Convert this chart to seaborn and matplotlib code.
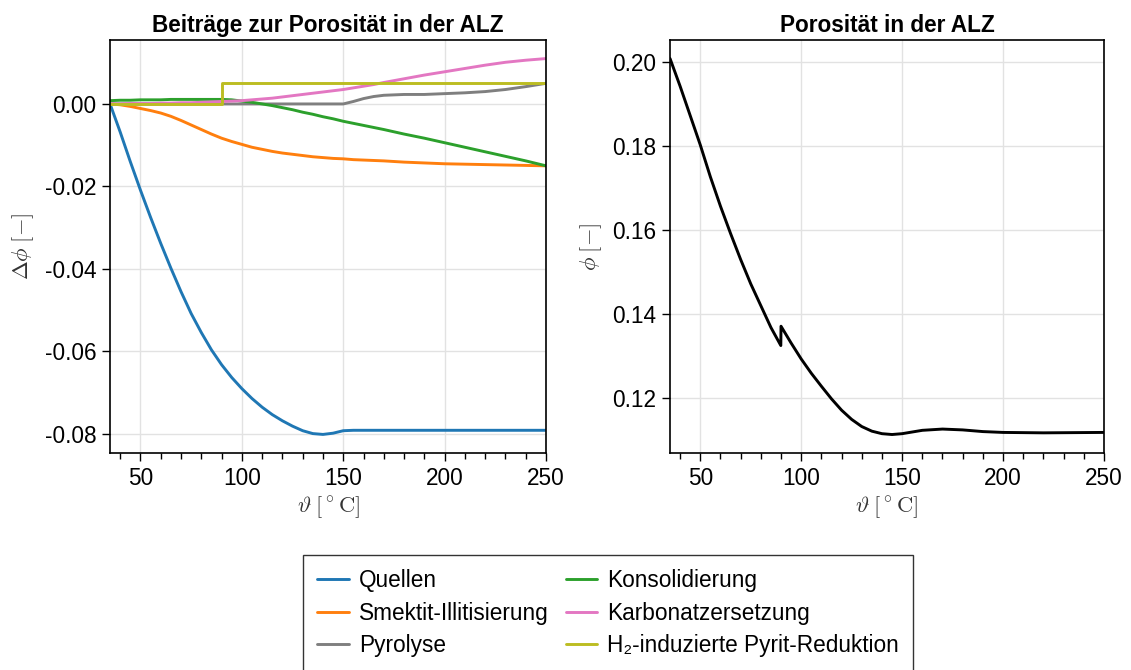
import numpy as np
import pandas as pd
import seaborn as sns
import matplotlib.pyplot as plt
from matplotlib.ticker import MultipleLocator, FormatStrFormatter

sns.set_theme(style="ticks")
plt.rcParams['font.family'] = ['Liberation Sans', 'DejaVu Sans']
plt.rcParams['mathtext.fontset'] = 'cm'
plt.rcParams['axes.unicode_minus'] = False
plt.rcParams['text.color'] = 'black'
plt.rcParams['axes.labelcolor'] = 'black'

# ----- data -----
temp = [35, 40, 45, 50, 55, 60, 65, 70, 75, 80, 85, 90, 95, 100, 105, 110, 115, 120,
        125, 130, 135, 140, 145, 150, 155, 160, 165, 170, 180, 190, 200, 210, 220, 230, 240, 250]

quellen = [0.0, -0.0068, -0.0140, -0.0209, -0.0275, -0.0338, -0.0398, -0.0455, -0.0508,
           -0.0554, -0.0596, -0.0632, -0.0663, -0.0690, -0.0714, -0.0735, -0.0753, -0.0768,
           -0.0781, -0.0792, -0.0799, -0.0801, -0.0798, -0.0792, -0.0791, -0.0791, -0.0791,
           -0.0791, -0.0791, -0.0791, -0.0791, -0.0791, -0.0791, -0.0791, -0.0791, -0.0791]

smektit = [0.0, -0.0002, -0.0006, -0.0011, -0.0016, -0.0022, -0.0030, -0.0040, -0.0051,
           -0.0062, -0.0073, -0.0083, -0.0091, -0.0098, -0.0105, -0.0110, -0.0115, -0.0119,
           -0.0122, -0.0125, -0.0128, -0.0130, -0.0132, -0.0133, -0.0135, -0.0136, -0.0137,
           -0.0138, -0.0141, -0.0143, -0.0145, -0.0146, -0.0147, -0.0148, -0.0149, -0.0150]

pyrolyse = [0.0] * 24 + [0.0006, 0.0013, 0.0018, 0.0021, 0.0023, 0.0023, 0.0025, 0.0027,
                         0.0030, 0.0035, 0.0042, 0.0050]

konsolidierung = [0.0008, 0.0009, 0.0009, 0.0010, 0.0010, 0.0010, 0.0011, 0.0011, 0.0011,
                  0.0011, 0.0011, 0.0011, 0.0010, 0.0007, 0.0004, 0.0000, -0.0004, -0.0009,
                  -0.0014, -0.0020, -0.0025, -0.0031, -0.0036, -0.0042, -0.0047, -0.0052,
                  -0.0057, -0.0062, -0.0073, -0.0083, -0.0094, -0.0105, -0.0116, -0.0127,
                  -0.0138, -0.0150]

karbonat = [0.0, 0.0000, 0.0001, 0.0001, 0.0001, 0.0002, 0.0002, 0.0003, 0.0003, 0.0004,
            0.0005, 0.0006, 0.0007, 0.0008, 0.0010, 0.0012, 0.0014, 0.0017, 0.0020, 0.0023,
            0.0026, 0.0029, 0.0032, 0.0035, 0.0039, 0.0043, 0.0047, 0.0052, 0.0061, 0.0070,
            0.0078, 0.0086, 0.0094, 0.0101, 0.0106, 0.0110]

pyrit_temp = [35, 90, 90, 250]
pyrit = [0.0, 0.0, 0.005, 0.005]

phi_temp = [35, 40, 45, 50, 55, 60, 65, 70, 75, 80, 85, 89.9, 90, 95, 100, 105, 110, 115,
            120, 125, 130, 135, 140, 145, 150, 155, 160, 170, 180, 190, 200, 220, 250]
phi = [0.2009, 0.1943, 0.1873, 0.1803, 0.1727, 0.1657, 0.1592, 0.1530, 0.1472, 0.1420,
       0.1368, 0.1325, 0.1371, 0.1331, 0.1293, 0.1259, 0.1228, 0.1198, 0.1171, 0.1149,
       0.1132, 0.1121, 0.1115, 0.1113, 0.1115, 0.1119, 0.1123, 0.1126, 0.1124, 0.1120,
       0.1118, 0.1117, 0.1118]

series = [
    ("Quellen", temp, quellen, "#1f77b4"),
    ("Smektit-Illitisierung", temp, smektit, "#ff7f0e"),
    ("Pyrolyse", temp, pyrolyse, "#7f7f7f"),
    ("Konsolidierung", temp, konsolidierung, "#2ca02c"),
    ("Karbonatzersetzung", temp, karbonat, "#e377c2"),
    ("H₂-induzierte Pyrit-Reduktion", pyrit_temp, pyrit, "#bcbd22"),
]

fs = 16.3

fig = plt.figure(figsize=(11.31, 6.70), dpi=100)
ax1 = fig.add_axes([0.0973, 0.3239, 0.3855, 0.6164])
ax2 = fig.add_axes([0.5924, 0.3239, 0.3837, 0.6164])

lw = 2.1
for name, x, y, col in series:
    df = pd.DataFrame({"T": x, "v": y})
    sns.lineplot(data=df, x="T", y="v", ax=ax1, color=col, lw=lw, label=name,
                 estimator=None, sort=False)

df_phi = pd.DataFrame({"T": phi_temp, "phi": phi})
sns.lineplot(data=df_phi, x="T", y="phi", ax=ax2, color="black", lw=lw,
             estimator=None, sort=False)

handles, labels = ax1.get_legend_handles_labels()
ax1.get_legend().remove()

ax1.set_ylim(-0.0846, 0.0155)
ax1.yaxis.set_major_locator(MultipleLocator(0.02))
ax2.set_ylim(0.1069, 0.2053)
ax2.yaxis.set_major_locator(MultipleLocator(0.02))

for ax, title, ylab in [(ax1, "Beiträge zur Porosität in der ALZ", r"$\Delta\phi\;[-]$"),
                        (ax2, "Porosität in der ALZ", r"$\phi\;[-]$")]:
    ax.set_xlim(35, 250)
    ax.xaxis.set_major_locator(MultipleLocator(50))
    ax.xaxis.set_minor_locator(MultipleLocator(10))
    ax.yaxis.set_major_formatter(FormatStrFormatter("%.2f"))
    ax.grid(True, which="major", color="#e2e2e2", linewidth=1.0)
    ax.grid(False, which="minor")
    ax.set_axisbelow(True)
    for s in ax.spines.values():
        s.set_visible(True)
        s.set_color("black")
        s.set_linewidth(1.2)
    ax.tick_params(axis="both", which="major", direction="out", length=6, width=1,
                   labelsize=fs, color="black", labelcolor="black", pad=4)
    ax.tick_params(axis="x", which="minor", direction="out", length=4.3, width=1,
                   color="black")
    ax.tick_params(top=False, right=False)
    ax.set_title(title, fontsize=fs, fontweight="bold", pad=6, color="black")
    ax.set_xlabel(r"$\vartheta\;[{}^\circ\mathrm{C}]$", fontsize=fs, color="#333333", labelpad=3)
    ax.set_ylabel(ylab, fontsize=fs, color="#333333", labelpad=6)

leg = fig.legend(handles, labels, loc="upper center", bbox_to_anchor=(0.5376, 0.171), ncol=2,
                 fontsize=fs, frameon=True, fancybox=False, edgecolor="black",
                 handlelength=1.4, handletextpad=0.45, columnspacing=0.75,
                 labelspacing=0.42, borderpad=0.6, borderaxespad=0)
leg.get_frame().set_linewidth(1.0)
for t in leg.get_texts():
    t.set_color("black")

fig.savefig("out.png", dpi=100)
